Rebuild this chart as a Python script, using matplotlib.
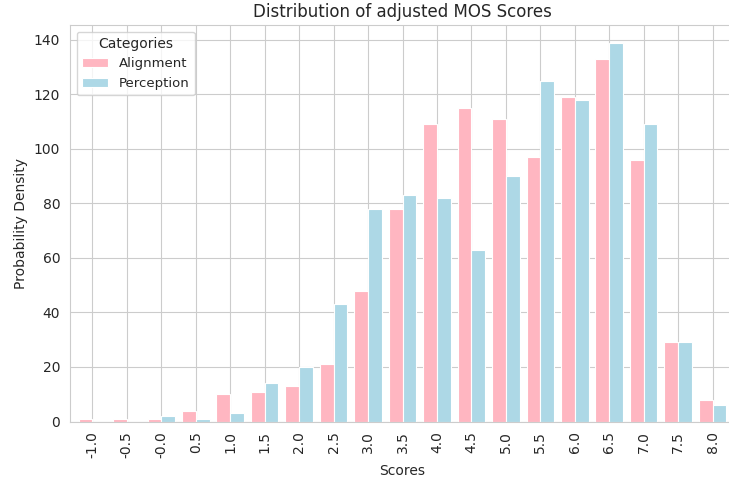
import matplotlib
matplotlib.use("Agg")
import matplotlib.pyplot as plt
import numpy as np
import seaborn as sns

sns.set_style("whitegrid")
plt.rcParams['font.family'] = ['DejaVu Sans']

categories = ["-1.0", "-0.5", "-0.0", "0.5", "1.0", "1.5", "2.0", "2.5", "3.0", "3.5",
              "4.0", "4.5", "5.0", "5.5", "6.0", "6.5", "7.0", "7.5", "8.0"]
alignment = [1, 1, 1, 4, 10, 11, 13, 21, 48, 78, 109, 115, 111, 97, 119, 133, 96, 29, 8]
perception = [0, 0, 2, 1, 3, 14, 20, 43, 78, 83, 82, 63, 90, 125, 118, 139, 109, 29, 6]

W, H = 729, 483
fig = plt.figure(figsize=(W/100, H/100), dpi=100)
left, right, top, bottom = 70, 735, 25, 421.5
ax = fig.add_axes([left/W, 1 - bottom/H, (right-left)/W, (bottom-top)/H])

x = np.arange(len(categories))
w = 0.4
ax.bar(x - w/2, alignment, width=w, color="lightpink", edgecolor="white", linewidth=0.8, label="Alignment")
ax.bar(x + w/2, perception, width=w, color="lightblue", edgecolor="white", linewidth=0.8, label="Perception")

ax.set_xticks(x)
ax.set_xticklabels(categories, rotation=90)
ax.set_xlim(-0.65, len(categories) - 1 + 0.65)
ax.set_ylim(0, 145.5)
ax.set_yticks(np.arange(0, 141, 20))
ax.set_xlabel("Scores")
ax.set_ylabel("Probability Density")
ax.set_title("Distribution of adjusted MOS Scores")
ax.legend(title="Categories", loc="upper left", fontsize=9.5, title_fontsize=10)

fig.savefig("out.png", dpi=100)
